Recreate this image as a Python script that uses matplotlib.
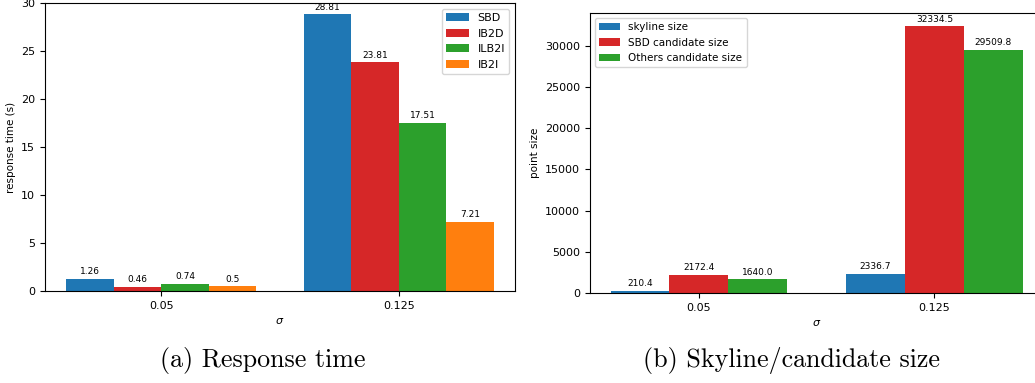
import numpy as np
import matplotlib
matplotlib.use("Agg")
import matplotlib.pyplot as plt

# data
sigmas = ['0.05', '0.125']
time_labels = ['SBD', 'IB2D', 'ILB2I', 'IB2I']
time_vals = [[1.26, 28.81], [0.46, 23.81], [0.74, 17.51], [0.5, 7.21]]
size_labels = ['skyline size', 'SBD candidate size', 'Others candidate size']
size_vals = [[210.4, 2336.7], [2172.4, 32334.5], [1640.0, 29509.8]]
time_colors = ['tab:blue', 'tab:red', 'tab:green', 'tab:orange']
size_colors = ['tab:blue', 'tab:red', 'tab:green']

fig = plt.figure(figsize=(10.35, 3.83), dpi=100)
ax1 = fig.add_axes([0.0435, 0.240, 0.4541, 0.752])
ax2 = fig.add_axes([0.570, 0.235, 0.438, 0.731])

x = np.arange(len(sigmas))

# (a) response time
w = 0.2
for i in range(len(time_labels)):
    bars = ax1.bar(x + (i - 1.5) * w, time_vals[i], w, color=time_colors[i], label=time_labels[i])
    ax1.bar_label(bars, labels=[str(v) for v in time_vals[i]], padding=2, fontsize=6.5)
ax1.set_ylim(0, 30)
ax1.set_xticks(x)
ax1.set_xticklabels(sigmas)
ax1.set_xlabel(r'$\sigma$', fontsize=8)
ax1.set_ylabel('response time (s)', fontsize=7.5)
ax1.tick_params(labelsize=8)
ax1.legend(loc='upper right', fontsize=8)

# (b) skyline / candidate size
w = 0.25
for i in range(len(size_labels)):
    bars = ax2.bar(x + (i - 1) * w, size_vals[i], w, color=size_colors[i], label=size_labels[i])
    ax2.bar_label(bars, labels=['%.1f' % v for v in size_vals[i]], padding=2, fontsize=6.5)
ax2.set_xticks(x)
ax2.set_xticklabels(sigmas)
ax2.set_xlabel(r'$\sigma$', fontsize=8)
ax2.set_ylabel('point size', fontsize=7.5)
ax2.tick_params(labelsize=8)
ax2.legend(loc='upper left', fontsize=7.5)

# captions
fig.text(0.254, 0.06, '(a) Response time', family='cmr10', fontsize=18.7, ha='center', va='center')
fig.text(0.765, 0.06, '(b) Skyline/candidate size', family='cmr10', fontsize=18.7, ha='center', va='center')

fig.savefig('out.png', dpi=100)
